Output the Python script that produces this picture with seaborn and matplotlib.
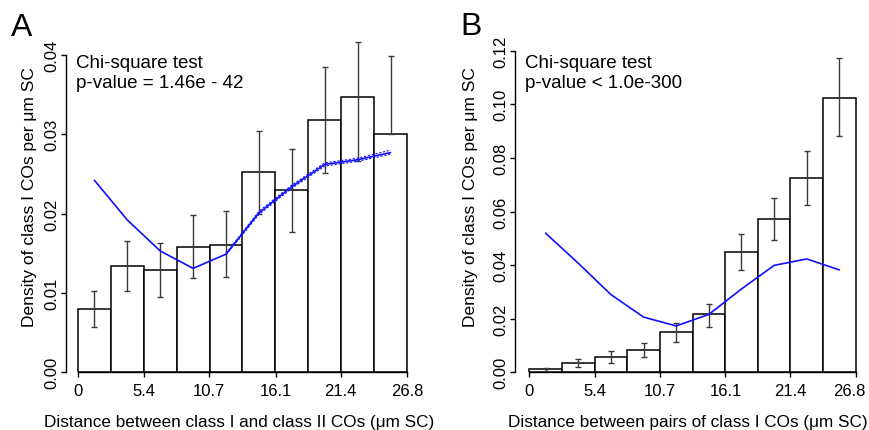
import numpy as np
import pandas as pd
import matplotlib
matplotlib.use("Agg")
import matplotlib.pyplot as plt
import matplotlib.transforms as mtransforms
import seaborn as sns

# ── data ──────────────────────────────────────────────────────────────────────
X_MAX = 26.8
N_BINS = 10
X_TICKS = [0, 5.4, 10.7, 16.1, 21.4, 26.8]
X_TICKLABELS = ["0", "5.4", "10.7", "16.1", "21.4", "26.8"]

# panel A: class I vs class II COs
a_density = [0.0080, 0.0134, 0.0129, 0.0158, 0.0161, 0.0252, 0.0230, 0.0318, 0.0347, 0.0300]
a_err_low = [0.0057, 0.0103, 0.0095, 0.0119, 0.0120, 0.0199, 0.0177, 0.0251, 0.0266, 0.0300]
a_err_high = [0.0103, 0.0166, 0.0163, 0.0198, 0.0203, 0.0304, 0.0282, 0.0385, 0.0416, 0.0399]
a_expected = [0.0242, 0.0192, 0.0153, 0.0131, 0.0149, 0.0201, 0.0234, 0.0262, 0.0268, 0.0277]
a_exp_low = [0.0241, 0.0191, 0.0152, 0.0130, 0.0148, 0.0199, 0.0232, 0.0260, 0.0266, 0.0275]
a_exp_high = [0.0243, 0.0193, 0.0154, 0.0132, 0.0150, 0.0203, 0.0236, 0.0264, 0.0270, 0.0280]
a_yticks = [0.00, 0.01, 0.02, 0.03, 0.04]
a_yticklabels = ["0.00", "0.01", "0.02", "0.03", "0.04"]

# panel B: pairs of class I COs
b_density = [0.0011, 0.0036, 0.0057, 0.0084, 0.0150, 0.0216, 0.0449, 0.0572, 0.0724, 0.1025]
b_err_low = [0.0005, 0.0021, 0.0036, 0.0057, 0.0113, 0.0169, 0.0383, 0.0493, 0.0623, 0.0882]
b_err_high = [0.0017, 0.0051, 0.0078, 0.0109, 0.0185, 0.0256, 0.0516, 0.0650, 0.0825, 0.1172]
b_expected = [0.0519, 0.0407, 0.0290, 0.0206, 0.0173, 0.0216, 0.0311, 0.0399, 0.0423, 0.0382]
b_yticks = [0.00, 0.02, 0.04, 0.06, 0.08, 0.10, 0.12]
b_yticklabels = ["0.00", "0.02", "0.04", "0.06", "0.08", "0.10", "0.12"]

# ── style ─────────────────────────────────────────────────────────────────────
sns.set_style("ticks")
plt.rcParams["font.family"] = ["Liberation Sans", "DejaVu Sans"]
for key in ("text.color", "axes.labelcolor", "xtick.color", "ytick.color", "axes.edgecolor"):
    plt.rcParams[key] = "black"

W, H = 870, 431
fig = plt.figure(figsize=(W / 100, H / 100), dpi=100)


def px_axes(left, top, right, bottom):
    return fig.add_axes([left / W, 1 - bottom / H, (right - left) / W, (bottom - top) / H])


def draw_panel(ax, density, lo, hi, expected, xlim, ylim, yticks, yticklabels,
               xlabel, note):
    width = X_MAX / N_BINS
    mids = width * (np.arange(N_BINS) + 0.5)
    density = np.asarray(density)
    df = pd.DataFrame({"mid": mids, "density": density})
    sns.histplot(data=df, x="mid", weights="density", binwidth=width,
                 binrange=(0, X_MAX), ax=ax, color="white", edgecolor="black",
                 linewidth=1.1, alpha=1, stat="count")
    ax.errorbar(mids, density, yerr=[density - np.asarray(lo), np.asarray(hi) - density],
                fmt="none", ecolor="#3a3a3a", elinewidth=1.0, capsize=2, capthick=1.0)
    sns.lineplot(x=mids, y=expected, ax=ax, color="#1010ff", linewidth=1.2)

    ax.set_xlim(*xlim)
    ax.set_ylim(*ylim)
    ax.set_xticks(X_TICKS)
    ax.set_xticklabels(X_TICKLABELS)
    ax.set_yticks(yticks)
    ax.set_yticklabels(yticklabels, rotation=90, va="center")
    ax.spines["left"].set_bounds(yticks[0], yticks[-1])
    ax.spines["bottom"].set_bounds(0, X_MAX)
    for s in ("top", "right"):
        ax.spines[s].set_visible(False)
    for s in ("left", "bottom"):
        ax.spines[s].set_linewidth(1.0)
    ax.tick_params(axis="both", length=3.5, width=1.0, labelsize=12, direction="out")
    ax.tick_params(axis="x", pad=4)
    ax.tick_params(axis="y", pad=1.5)
    ax.set_xlabel(xlabel, fontsize=12.3, labelpad=12)
    ax.set_ylabel("Density of class I COs per \u03bcm SC", fontsize=12.5)
    ax.text(0.03, 0.955, note, transform=ax.transAxes, fontsize=13.5,
            va="top", ha="left", linespacing=1.2)
    return mids


# ── panel A ───────────────────────────────────────────────────────────────────
axA = px_axes(66, 40, 412, 373.3)
midsA = draw_panel(axA, a_density, a_err_low, a_err_high, a_expected,
                   (-0.977, 27.21), (0, 0.04202), a_yticks, a_yticklabels,
                   "Distance between class I and class II COs (\u03bcm SC)",
                   "Chi-square test\np-value = 1.46e - 42")
axA.plot(midsA[4:], a_exp_low[4:], color="#1010ff", lw=0.8, ls=(0, (2, 1.5)))
axA.plot(midsA[4:], a_exp_high[4:], color="#1010ff", lw=0.8, ls=(0, (2, 1.5)))
axA.yaxis.set_label_coords(-0.085, 0.53)

# ── panel B ───────────────────────────────────────────────────────────────────
axB = px_axes(515, 40, 860, 373.3)
draw_panel(axB, b_density, b_err_low, b_err_high, b_expected,
           (-1.174, 27.15), (0, 0.12437), b_yticks, b_yticklabels,
           "Distance between pairs of class I COs (\u03bcm SC)",
           "Chi-square test\np-value < 1.0e-300")
axB.yaxis.set_label_coords(-0.107, 0.53)
# keep the last tick label inside the figure
last = axB.get_xticklabels()[-1]
last.set_transform(last.get_transform() + mtransforms.ScaledTranslation(-6 / 100, 0, fig.dpi_scale_trans))

fig.text(11 / W, 1 - 36 / H, "A", fontsize=23, ha="left", va="baseline")
fig.text(460 / W, 1 - 35 / H, "B", fontsize=23, ha="left", va="baseline")

fig.savefig("out.png", dpi=100)
